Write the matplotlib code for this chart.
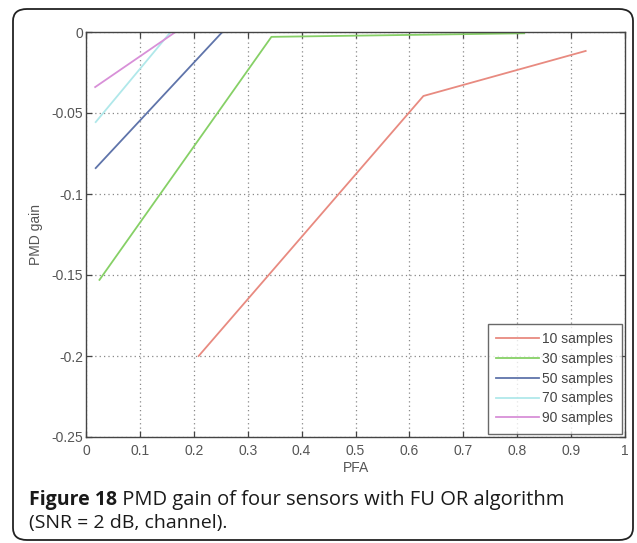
import matplotlib
matplotlib.use("Agg")
import matplotlib.pyplot as plt
from matplotlib.patches import FancyBboxPatch

# PMD gain vs PFA for different numbers of samples
labels = ["10 samples", "30 samples", "50 samples", "70 samples", "90 samples"]
pfa_10 = [0.209, 0.626, 0.927]
gain_10 = [-0.200, -0.0395, -0.0117]
pfa_30 = [0.025, 0.344, 0.813]
gain_30 = [-0.153, -0.0030, -0.0008]
pfa_50 = [0.018, 0.253, 0.432]
gain_50 = [-0.084, 0.0, 0.0]
pfa_70 = [0.018, 0.157]
gain_70 = [-0.0556, 0.0]
pfa_90 = [0.017, 0.166]
gain_90 = [-0.034, 0.0]

colors = ["#e88a80", "#86d066", "#5f74aa", "#b0e8ea", "#d890d8"]

xticks = [0, 0.1, 0.2, 0.3, 0.4, 0.5, 0.6, 0.7, 0.8, 0.9, 1]
xtick_labels = ["0", "0.1", "0.2", "0.3", "0.4", "0.5", "0.6", "0.7", "0.8", "0.9", "1"]
yticks = [-0.25, -0.2, -0.15, -0.1, -0.05, 0]
ytick_labels = ["-0.25", "-0.2", "-0.15", "-0.1", "-0.05", "0"]

caption_bold = "Figure 18"
caption_rest = " PMD gain of four sensors with FU OR algorithm"
caption_line2 = "(SNR = 2 dB, channel)."

W, H = 637, 543
fig = plt.figure(figsize=(W / 100, H / 100), dpi=100)


def fx(px):
    return px / W


def fy(py):
    return 1 - py / H


# rounded frame around the whole figure
frame = FancyBboxPatch((fx(13), fy(540)), fx(633) - fx(13), fy(9) - fy(540),
                       boxstyle="round,pad=0,rounding_size=0.022",
                       transform=fig.transFigure, fill=False,
                       edgecolor="#222222", linewidth=1.3)
fig.patches.append(frame)

ax = fig.add_axes([fx(86), fy(437), fx(625) - fx(86), fy(32) - fy(437)])

series = [(pfa_10, gain_10), (pfa_30, gain_30), (pfa_50, gain_50),
          (pfa_70, gain_70), (pfa_90, gain_90)]
for (x, y), lab, c in zip(series, labels, colors):
    ax.plot(x, y, color=c, linewidth=1.3, label=lab)

ax.set_xlim(0, 1)
ax.set_ylim(-0.25, 0)
ax.set_xticks(xticks)
ax.set_xticklabels(xtick_labels)
ax.set_yticks(yticks)
ax.set_yticklabels(ytick_labels)
ax.tick_params(direction="in", top=True, right=True, length=4, width=0.9,
               labelsize=10, colors="#444444", labelcolor="#555555")
ax.tick_params(axis="x", pad=5)
ax.tick_params(axis="y", pad=2)
for lab in ax.get_xticklabels() + ax.get_yticklabels():
    lab.set_family("Liberation Sans")
ax.grid(True, linestyle=(0, (1, 2.5)), color="#888888", linewidth=0.9)
for s in ax.spines.values():
    s.set_color("#444444")
    s.set_linewidth(1.0)

ax.set_xlabel("PFA", fontsize=10, family="Liberation Sans", color="#555555", labelpad=2)
ax.set_ylabel("PMD gain", fontsize=10, family="Liberation Sans", color="#555555", labelpad=6)

leg = ax.legend(loc="lower right", frameon=True, fancybox=False,
                edgecolor="#444444", handlelength=3.1, handletextpad=0.2,
                borderpad=0.6, labelspacing=0.42, borderaxespad=0.25,
                prop={"family": "Liberation Sans", "size": 10})
leg.get_frame().set_linewidth(1.0)
for t in leg.get_texts():
    t.set_color("#444444")

# caption: bold figure number followed by regular text
t1 = fig.text(fx(29), fy(505), caption_bold, fontsize=14, family="Open Sans",
              weight="bold", va="baseline", color="#1a1a1a")
fig.canvas.draw()
bb = t1.get_window_extent(renderer=fig.canvas.get_renderer())
fig.text(bb.x1 / W, fy(505), caption_rest, fontsize=14.5, family="Open Sans",
         va="baseline", color="#1a1a1a")
fig.text(fx(29), fy(528), caption_line2, fontsize=14, family="Open Sans",
         va="baseline", color="#1a1a1a")

fig.savefig("out.png", dpi=100)
